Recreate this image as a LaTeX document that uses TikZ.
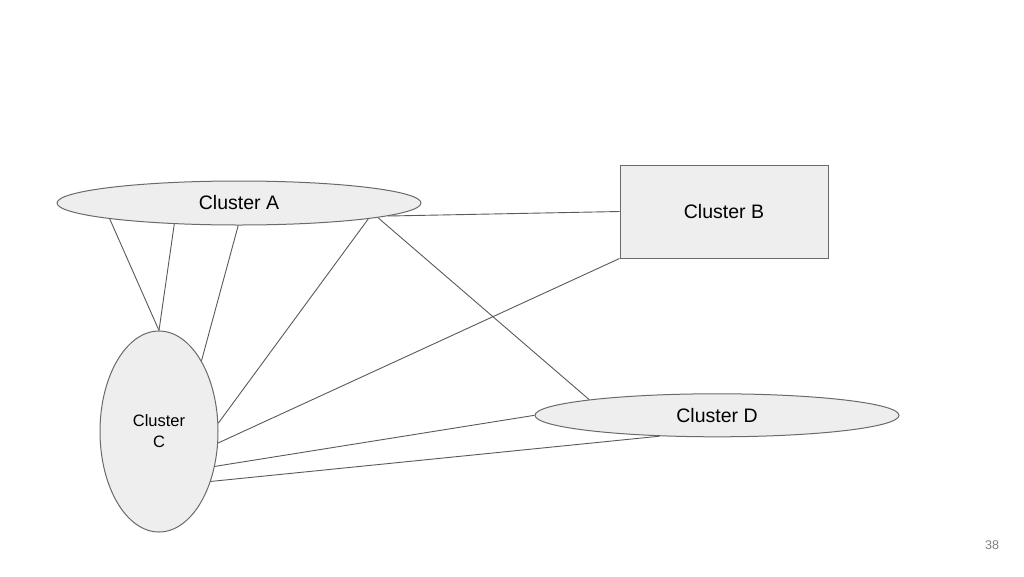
\documentclass[tikz,border=0pt]{standalone}
\usepackage{fontspec}
\setmainfont{Liberation Sans}
\usetikzlibrary{shapes.geometric}
\definecolor{clfill}{HTML}{EEEEEE}
\definecolor{cldraw}{HTML}{6A6A6A}
\definecolor{cledge}{HTML}{5A5A5A}
\tikzset{
  cluster/.style = {align=center, inner sep=0pt, text centered,
    fill=clfill, draw=cldraw, line width=1pt},
  flat/.style = {cluster, ellipse, minimum width=364pt, minimum height=44pt,
    font=\fontsize{19.5}{22}\selectfont},% amas a plat
  tall/.style = {cluster, ellipse, minimum width=118pt, minimum height=201pt,
    font=\fontsize{16.5}{21}\selectfont},% amas debout
  boxed/.style = {cluster, rectangle, minimum width=208pt, minimum height=93pt,
    font=\fontsize{19.5}{22}\selectfont},% amas carre
  link/.style = {draw=cledge, line width=0.9pt}
}
\begin{document}
\begin{tikzpicture}[x=1pt,y=-1pt]
  \useasboundingbox[fill=white] (0,0) rectangle (1024,576);
  \node [flat]  (A) at (239,203) {Cluster A};
  \node [boxed] (B) at (724,211.5) {Cluster B};
  \node [tall]  (C) at (159,431.5) {Cluster\\C};
  \node [flat, minimum height=43pt] (D) at (717,415.3) {Cluster D};
  % liens
  \draw [link] (A.-173.2) -- (C.north);
  \draw [link] (A.-162.3) -- (C.north);
  \draw [link] (A.-92.6) -- (C.59.2);
  \draw [link] (A.-7) -- (C.8.8);
  \draw [link] (A.-6) -- (D.173.4);
  \draw [link] (A.-5.5) -- (B.west);
  \draw [link] (B.south west) -- (C.-11.6);
  \draw [link] (D.west) -- (C.-32.3);
  \draw [link] (D.200.6) -- (C.-44.5);
  \node [text=gray, font=\fontsize{12.6}{14}\selectfont] (page) at (992,545) {38};
\end{tikzpicture}
\end{document}
